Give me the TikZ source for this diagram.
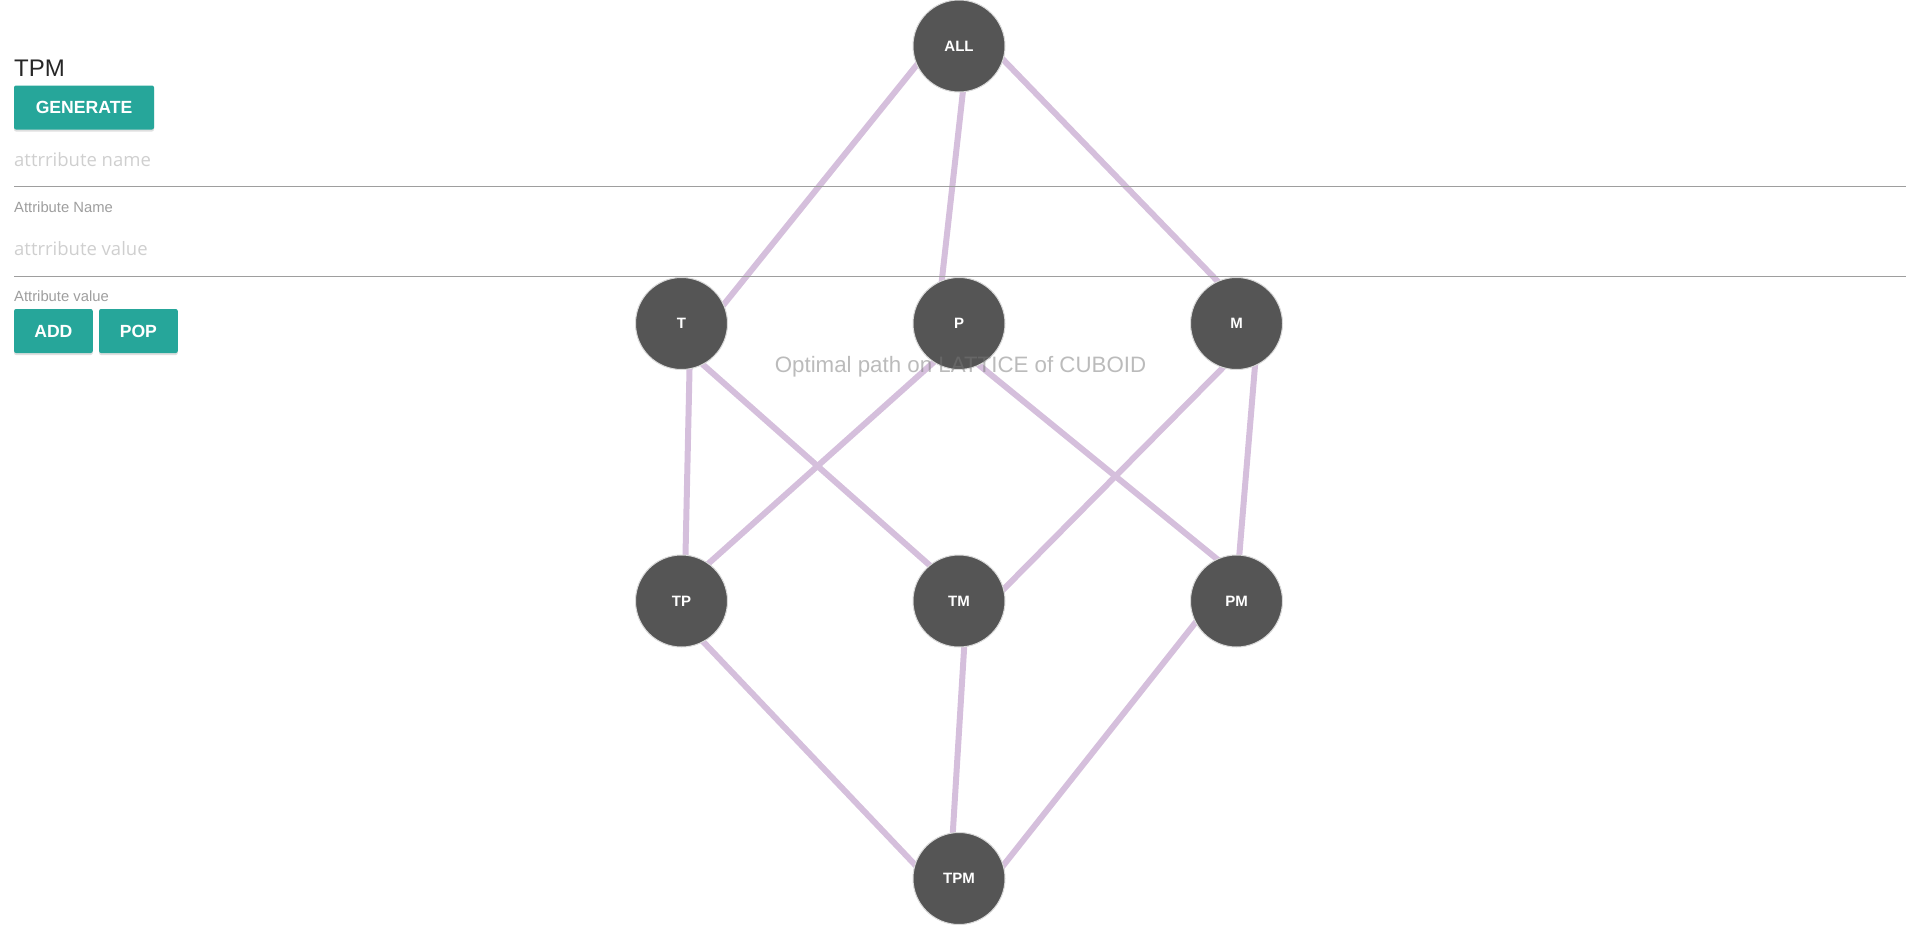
\documentclass[tikz,border=0pt]{standalone}
\usepackage{fontspec}
\setmainfont{Liberation Sans}
\newfontfamily\phfont{Open Sans}
\definecolor{lattnode}{HTML}{555555}
\definecolor{lattedge}{HTML}{D5BFDC}
\definecolor{btnteal}{HTML}{26A69A}
\definecolor{labelgray}{HTML}{9E9E9E}
\definecolor{phgray}{HTML}{CFCFCF}
\usetikzlibrary{positioning,shadows,backgrounds}

\begin{document}
\begin{tikzpicture}[x=1pt,y=-1pt,
    lnode/.style={circle,fill=lattnode,draw=white!85!black,line width=1pt,minimum size=92pt,inner sep=0pt,text=white,font=\bfseries\fontsize{15}{18}\selectfont},
    ledge/.style={draw=lattedge,line width=6pt},
    btn/.style={fill=btnteal,rounded corners=2pt,text=white,minimum height=44pt,inner sep=0pt,font=\bfseries\fontsize{17.6}{21}\selectfont,drop shadow={shadow xshift=0pt,shadow yshift=-2pt,opacity=0.25}},
    field/.style={anchor=base west,inner sep=0pt,text=phgray,font=\phfont\fontsize{18.5}{22}\selectfont},
    flabel/.style={anchor=base west,inner sep=0pt,text=labelgray,font=\fontsize{14.8}{17}\selectfont},
    node distance=277.5pt
    ]
    \useasboundingbox (0,0) rectangle (1920,926);

    % the form on the left
    \node (title) [anchor=base west,inner sep=0pt,text=black!85,font=\fontsize{24}{28}\selectfont] at (14,76) {TPM};
    \node (gen) [btn,minimum width=140pt] at (84,107.5) {GENERATE};
    \node (aname) [field] at (14,166) {attrribute name};
    \draw[labelgray,line width=1pt] (14,186.7) -- (1906,186.7);
    \node (anamelbl) [flabel] at (14,212.7) {Attribute Name};
    \node (avalue) [field] at (14,255) {attrribute value};
    \draw[labelgray,line width=1pt] (14,276) -- (1906,276);
    \node (avaluelbl) [flabel] at (14,301.7) {Attribute value};
    \node (add) [btn,minimum width=78.7pt] at (53.4,331) {ADD};
    \node (pop) [btn,minimum width=78.7pt] at (138.4,331) {POP};

    % the lattice
    \node (all) [lnode] at (959,46) {ALL};
    \node (p) [lnode,below of=all] {P};
    \node (t) [lnode,left of=p] {T};
    \node (m) [lnode,right of=p] {M};
    \node (tp) [lnode,below of=t] {TP};
    \node (tm) [lnode,below of=p] {TM};
    \node (pm) [lnode,below of=m] {PM};
    \node (tpm) [lnode,below of=tm] {TPM};

    % the edges
    \begin{scope}[on background layer]
    \draw[ledge] ([xshift=-27pt]all.center) -- ([xshift=27pt]t.center);
    \draw[ledge] ([xshift=9pt]all.center) -- ([xshift=-22pt]p.center);
    \draw[ledge] ([xshift=31pt]all.center) -- ([xshift=22pt]m.center);
    \draw[ledge] ([xshift=9pt]t.center) -- ([xshift=3pt]tp.center);
    \draw[ledge] ([xshift=-25pt]t.center) -- ([xshift=11pt]tm.center);
    \draw[ledge] ([xshift=18pt]p.center) -- ([xshift=-15pt]tp.center);
    \draw[ledge] ([xshift=-31pt]p.center) -- ([xshift=32pt]pm.center);
    \draw[ledge] ([xshift=30pt]m.center) -- ([xshift=33pt]tm.center);
    \draw[ledge] ([xshift=22pt]m.center) -- ([xshift=-1pt]pm.center);
    \draw[ledge] ([xshift=-17pt]tp.center) -- ([xshift=-31pt]tpm.center);
    \draw[ledge] ([xshift=8pt]tm.center) -- ([xshift=-9pt]tpm.center);
    \draw[ledge] ([xshift=-24pt]pm.center) -- ([xshift=34pt]tpm.center);
    \end{scope}

    \node (caption) [anchor=base,inner sep=0pt,text=black!53,opacity=0.5,font=\fontsize{22.3}{26}\selectfont] at (960.5,372.7) {Optimal path on LATTICE of CUBOID};
\end{tikzpicture}
\end{document}
